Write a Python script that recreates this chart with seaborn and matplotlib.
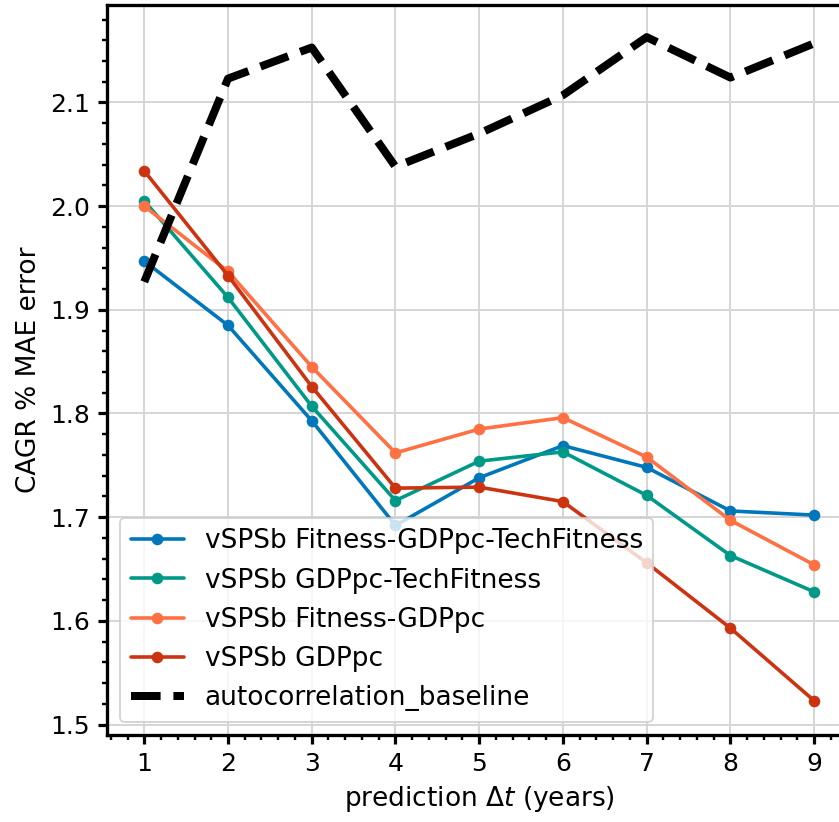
import numpy as np
import pandas as pd
import seaborn as sns
import matplotlib
matplotlib.use("Agg")
import matplotlib.pyplot as plt
from matplotlib.ticker import MultipleLocator

# prediction horizon (years)
delta_t = [1, 2, 3, 4, 5, 6, 7, 8, 9]

# CAGR % MAE error per model
fit_gdp_tech = [1.947, 1.885, 1.793, 1.692, 1.738, 1.769, 1.748, 1.706, 1.702]
gdp_tech = [2.005, 1.912, 1.807, 1.716, 1.754, 1.763, 1.721, 1.663, 1.628]
fit_gdp = [2.000, 1.937, 1.845, 1.762, 1.785, 1.796, 1.758, 1.697, 1.654]
gdp_only = [2.034, 1.933, 1.826, 1.728, 1.729, 1.715, 1.656, 1.593, 1.523]
baseline = [1.927, 2.123, 2.153, 2.038, 2.070, 2.107, 2.163, 2.124, 2.157]

series_names = ["vSPSb Fitness-GDPpc-TechFitness", "vSPSb GDPpc-TechFitness",
                "vSPSb Fitness-GDPpc", "vSPSb GDPpc"]
series_values = [fit_gdp_tech, gdp_tech, fit_gdp, gdp_only]
series_colors = ["#0077BB", "#009988", "#FF7043", "#CC3311"]

sns.set_style("ticks", rc={"axes.edgecolor": "black", "text.color": "black",
                           "axes.labelcolor": "black", "xtick.color": "black",
                           "ytick.color": "black"})
plt.rcParams["font.family"] = ["DejaVu Sans"]
plt.rcParams["font.size"] = 12

W, H = 839, 822
fig = plt.figure(figsize=(W / 144, H / 144), dpi=144)
ax = fig.add_axes([107 / W, (H - 735) / H, (851.4 - 107) / W, 730 / H])

for name, vals, col in zip(series_names, series_values, series_colors):
    df = pd.DataFrame({"dt": delta_t, "err": vals})
    sns.lineplot(data=df, x="dt", y="err", ax=ax, color=col, label=name,
                 marker="o", markersize=5.8, markeredgewidth=0, linewidth=1.8)

df_b = pd.DataFrame({"dt": delta_t, "err": baseline})
sns.lineplot(data=df_b, x="dt", y="err", ax=ax, color="black",
             label="autocorrelation_baseline", linestyle="--", linewidth=4)

ax.set_xlim(0.555, 9.445)
ax.set_ylim(1.4899, 2.194)
ax.set_xlabel(r"prediction $\Delta t$ (years)", fontsize=13.2)
ax.set_ylabel("CAGR % MAE error", fontsize=13.2)
ax.set_xticks(delta_t)
ax.xaxis.set_minor_locator(MultipleLocator(0.2))
ax.yaxis.set_minor_locator(MultipleLocator(0.02))
ax.tick_params(which="major", length=4.5, width=1.6, labelsize=12.5, pad=4)
ax.tick_params(which="minor", length=2.4, width=1.2)
for sp in ax.spines.values():
    sp.set_linewidth(1.65)

ax.grid(True, which="major", color="#d6d6d6", linewidth=1.0)
ax.set_axisbelow(True)

ax.legend(loc="lower left", fontsize=13.2, framealpha=0.8)

fig.savefig("out.png", dpi=144)
